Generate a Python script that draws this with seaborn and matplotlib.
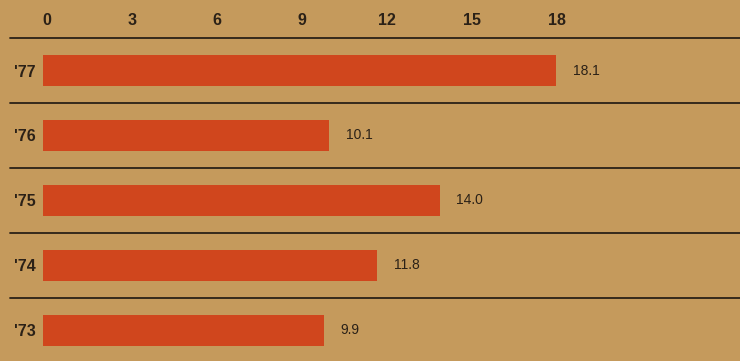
import matplotlib
matplotlib.use("Agg")
import matplotlib.pyplot as plt
import matplotlib.transforms as mtransforms
import seaborn as sns
import pandas as pd

years = ["'77", "'76", "'75", "'74", "'73"]
values = [18.1, 10.1, 14.0, 11.8, 9.9]
xticks = [0, 3, 6, 9, 12, 15, 18]

bg = "#c59a5c"
bar_color = "#d0461d"
ink = "#2b2117"

sns.set_theme(style="white")
plt.rcParams["font.family"] = ["Liberation Sans", "DejaVu Sans"]

df = pd.DataFrame({"year": years, "value": values})

fig = plt.figure(figsize=(7.4, 3.61), dpi=100, facecolor=bg)
ax = fig.add_axes([0, 0, 1, 1])
ax.set_facecolor(bg)

sns.barplot(data=df, x="value", y="year", orient="h", color=bar_color,
            width=0.48, saturation=1, linewidth=0, ax=ax)

ax.set_xlim(-1.52, 24.6)
ax.set_ylim(4.47, -1.085)

# row separators
for i in range(len(years)):
    ax.axhline(i - 0.5, xmin=10 / 740, xmax=1, color=ink, lw=1.3)

# value labels at the bar ends
ax.bar_label(ax.containers[0], labels=[f"{v:.1f}" for v in values],
             padding=12, fontsize=10, color=ink)

ax.set_xticks(xticks)
ax.set_xticklabels([str(t) for t in xticks])
ax.tick_params(axis="x", top=True, labeltop=True, bottom=False,
               labelbottom=False, length=0, pad=-20, labelsize=11.5,
               labelcolor=ink)
ax.tick_params(axis="y", left=False, length=0, pad=-26, labelsize=11.5,
               labelcolor=ink)
shift = mtransforms.ScaledTranslation(4 / 100, 0, fig.dpi_scale_trans)
for lab in ax.get_xticklabels():
    lab.set_fontweight("bold")
    lab.set_transform(lab.get_transform() + shift)
for lab in ax.get_yticklabels():
    lab.set_fontweight("bold")

ax.set_xlabel("")
ax.set_ylabel("")
for s in ax.spines.values():
    s.set_visible(False)

fig.savefig("out.png", dpi=100, facecolor=bg)
